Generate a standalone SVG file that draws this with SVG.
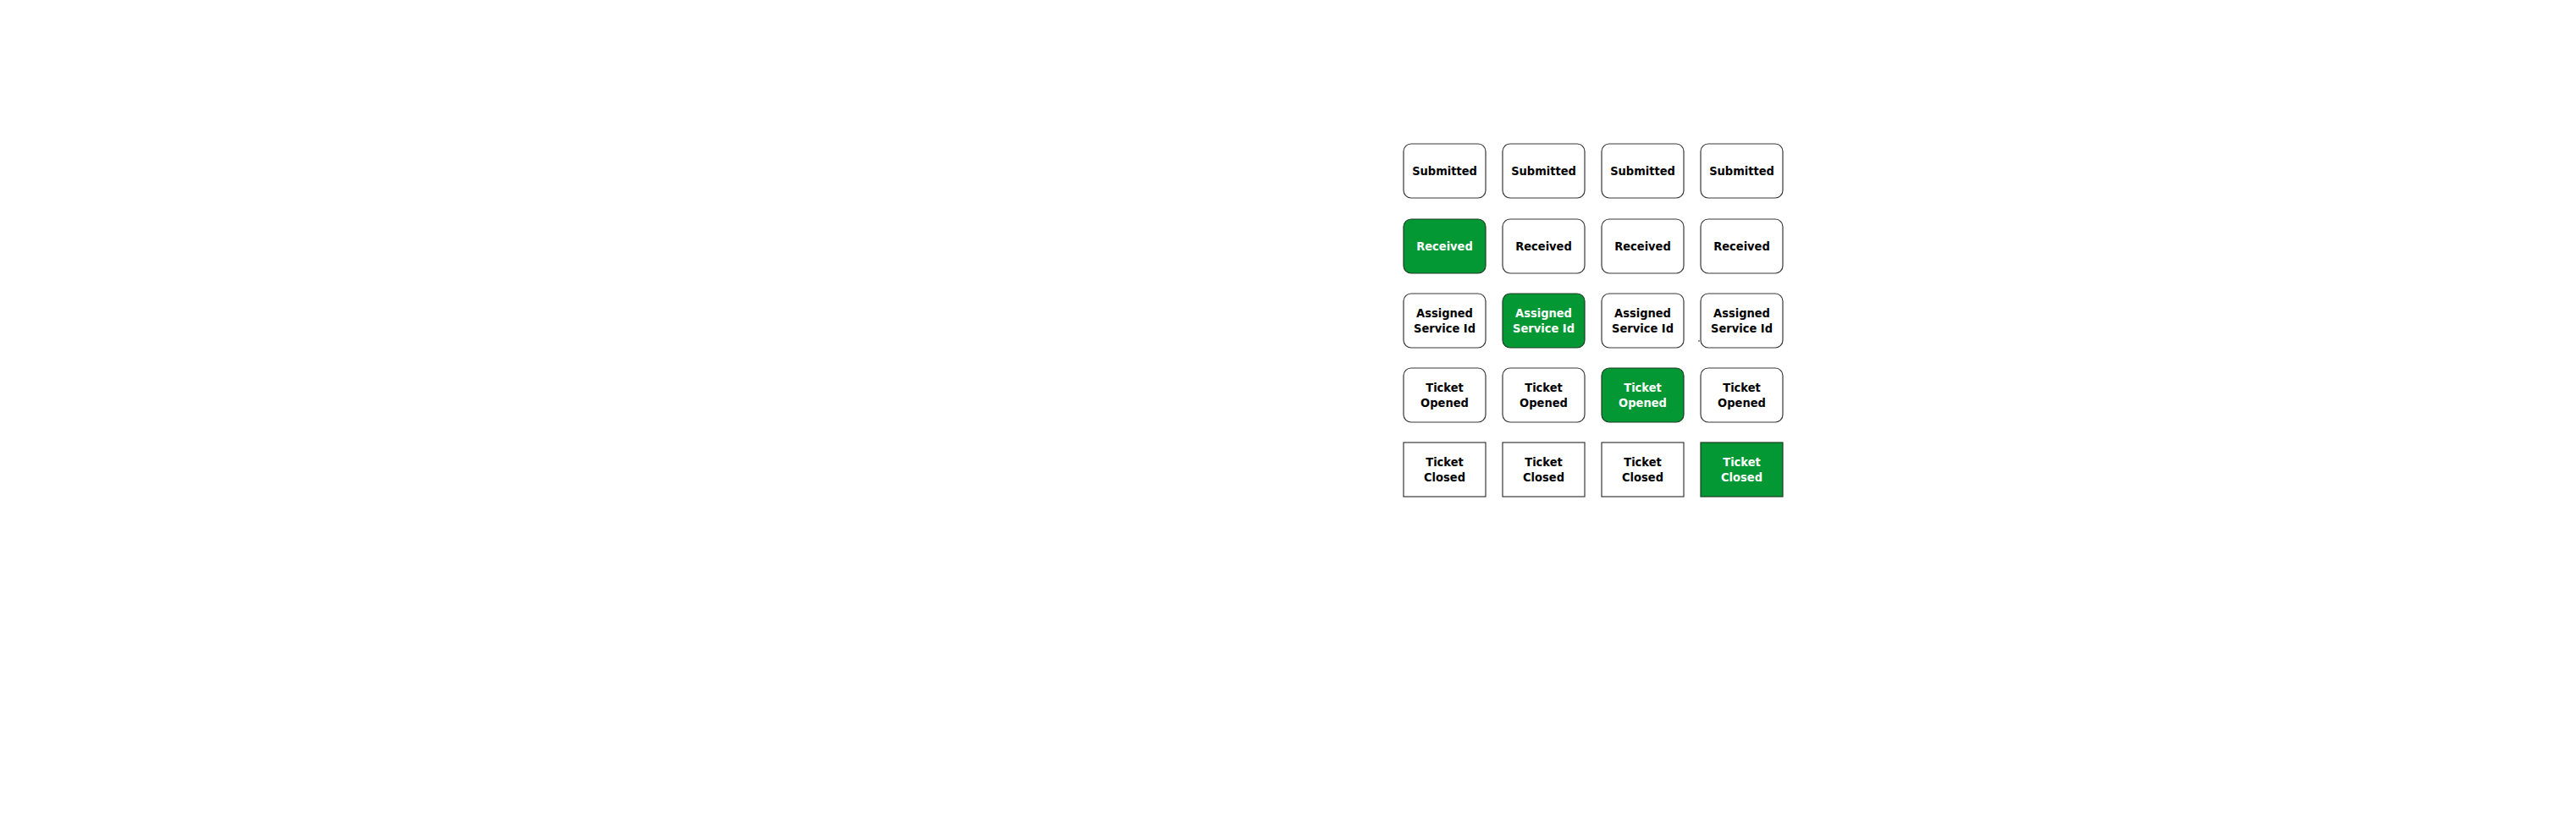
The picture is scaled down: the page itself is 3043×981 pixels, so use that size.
<svg xmlns="http://www.w3.org/2000/svg" width="3043" height="981" viewBox="0 0 3043 981">
<style>
.b{fill:#ffffff;stroke:#383838;stroke-width:1.2}
.g{fill:#039834;stroke:#1f3d25;stroke-width:1.2}
text{font-family:"DejaVu Sans Condensed","DejaVu Sans","Liberation Sans",sans-serif;font-stretch:condensed;font-weight:bold;font-size:14.5px;text-anchor:middle;dominant-baseline:central;fill:#000000}
.w{fill:#ffffff}
</style>
<rect width="3043" height="981" fill="#ffffff"/>
<g id="connectors">
<line x1="2006" y1="403" x2="2008" y2="403" stroke="#333333" stroke-width="1"/>
</g>
<g id="submitted-1"><rect class="b" x="1658" y="170" width="97" height="64" rx="9"/><text x="1706.5" y="202">Submitted</text></g>
<g id="submitted-2"><rect class="b" x="1775" y="170" width="97" height="64" rx="9"/><text x="1823.5" y="202">Submitted</text></g>
<g id="submitted-3"><rect class="b" x="1892" y="170" width="97" height="64" rx="9"/><text x="1940.5" y="202">Submitted</text></g>
<g id="submitted-4"><rect class="b" x="2009" y="170" width="97" height="64" rx="9"/><text x="2057.5" y="202">Submitted</text></g>

<g id="received-1"><rect class="g" x="1658" y="259" width="97" height="64" rx="9"/><text class="w" x="1706.5" y="291">Received</text></g>
<g id="received-2"><rect class="b" x="1775" y="259" width="97" height="64" rx="9"/><text x="1823.5" y="291">Received</text></g>
<g id="received-3"><rect class="b" x="1892" y="259" width="97" height="64" rx="9"/><text x="1940.5" y="291">Received</text></g>
<g id="received-4"><rect class="b" x="2009" y="259" width="97" height="64" rx="9"/><text x="2057.5" y="291">Received</text></g>

<g id="assigned-1"><rect class="b" x="1658" y="347" width="97" height="64" rx="9"/><text x="1706.5" y="370">Assigned</text><text x="1706.5" y="388">Service Id</text></g>
<g id="assigned-2"><rect class="g" x="1775" y="347" width="97" height="64" rx="9"/><text class="w" x="1823.5" y="370">Assigned</text><text class="w" x="1823.5" y="388">Service Id</text></g>
<g id="assigned-3"><rect class="b" x="1892" y="347" width="97" height="64" rx="9"/><text x="1940.5" y="370">Assigned</text><text x="1940.5" y="388">Service Id</text></g>
<g id="assigned-4"><rect class="b" x="2009" y="347" width="97" height="64" rx="9"/><text x="2057.5" y="370">Assigned</text><text x="2057.5" y="388">Service Id</text></g>

<g id="opened-1"><rect class="b" x="1658" y="435" width="97" height="64" rx="9"/><text x="1706.5" y="458">Ticket</text><text x="1706.5" y="476">Opened</text></g>
<g id="opened-2"><rect class="b" x="1775" y="435" width="97" height="64" rx="9"/><text x="1823.5" y="458">Ticket</text><text x="1823.5" y="476">Opened</text></g>
<g id="opened-3"><rect class="g" x="1892" y="435" width="97" height="64" rx="9"/><text class="w" x="1940.5" y="458">Ticket</text><text class="w" x="1940.5" y="476">Opened</text></g>
<g id="opened-4"><rect class="b" x="2009" y="435" width="97" height="64" rx="9"/><text x="2057.5" y="458">Ticket</text><text x="2057.5" y="476">Opened</text></g>

<g id="closed-1"><rect class="b" x="1658" y="523" width="97" height="64"/><text x="1706.5" y="546">Ticket</text><text x="1706.5" y="564">Closed</text></g>
<g id="closed-2"><rect class="b" x="1775" y="523" width="97" height="64"/><text x="1823.5" y="546">Ticket</text><text x="1823.5" y="564">Closed</text></g>
<g id="closed-3"><rect class="b" x="1892" y="523" width="97" height="64"/><text x="1940.5" y="546">Ticket</text><text x="1940.5" y="564">Closed</text></g>
<g id="closed-4"><rect class="g" x="2009" y="523" width="97" height="64"/><text class="w" x="2057.5" y="546">Ticket</text><text class="w" x="2057.5" y="564">Closed</text></g>
</svg>
